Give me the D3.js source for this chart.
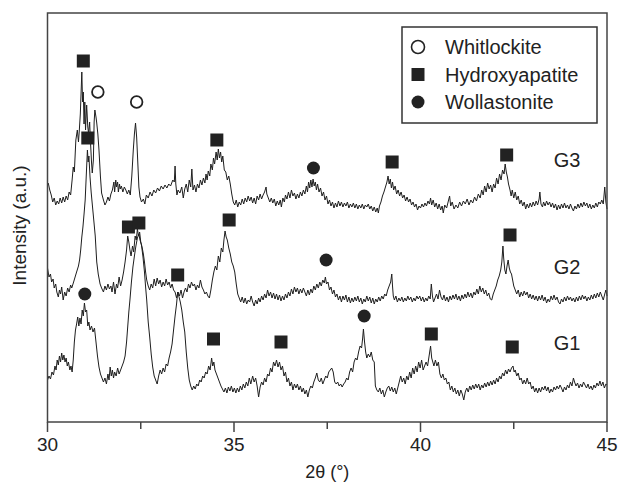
<!DOCTYPE html>
<html>
<head>
<meta charset="utf-8">
<script src="https://cdn.jsdelivr.net/npm/d3@7"></script>
<style>
  body { margin: 0; background: #fff; }
  svg { display: block; font-family: "Liberation Sans", Arial, sans-serif; }
</style>
</head>
<body>
<svg class="visual" width="618" height="488"></svg>
<script>
// Series names and vertical offsets used for stacking the patterns
const seriesNames = ["G1", "G2", "G3"];
const seriesOffsets = [0, 90, 180];
// Height (stacked a.u.) where each series label sits
const labelHeights = [79, 155, 262];

// [2theta, intensity (a.u.)]
const g1 = [[30.0,42],[30.04,46],[30.08,43],[30.12,50],[30.16,47],[30.2,56],[30.23,52],[30.26,62],[30.29,57],[30.32,66],[30.35,60],[30.38,69],[30.41,62],[30.44,67],[30.47,60],[30.5,64],[30.53,56],[30.56,60],[30.6,52],[30.63,56],[30.66,50],[30.69,62],[30.72,80],[30.75,92],[30.78,98],[30.81,105],[30.84,96],[30.87,104],[30.9,98],[30.93,112],[30.96,106],[30.99,119],[31.02,110],[31.05,112],[31.08,96],[31.11,100],[31.14,92],[31.18,96],[31.22,90],[31.26,94],[31.3,80],[31.34,66],[31.38,55],[31.42,48],[31.46,44],[31.5,40],[31.54,44],[31.58,38],[31.62,48],[31.65,42],[31.68,55],[31.71,46],[31.74,52],[31.77,44],[31.8,50],[31.84,46],[31.88,54],[31.92,48],[31.96,52],[32.0,56],[32.04,60],[32.08,66],[32.12,80],[32.15,95],[32.18,110],[32.21,122],[32.25,140],[32.29,155],[32.33,166],[32.37,176],[32.41,184],[32.45,188],[32.48,182],[32.52,177],[32.56,165],[32.6,150],[32.63,135],[32.66,122],[32.7,100],[32.74,85],[32.78,68],[32.82,55],[32.86,46],[32.9,42],[32.94,38],[32.98,46],[33.02,52],[33.06,48],[33.1,54],[33.14,50],[33.18,58],[33.22,56],[33.26,64],[33.3,70],[33.34,78],[33.38,92],[33.42,106],[33.46,118],[33.49,130],[33.52,126],[33.56,120],[33.6,112],[33.64,100],[33.68,90],[33.72,70],[33.76,54],[33.8,42],[33.84,36],[33.88,32],[33.92,36],[33.96,33],[34.0,38],[34.04,36],[34.08,42],[34.12,40],[34.16,46],[34.2,44],[34.24,50],[34.28,48],[34.32,56],[34.36,52],[34.4,64],[34.43,56],[34.46,60],[34.49,52],[34.53,48],[34.57,44],[34.61,40],[34.65,36],[34.69,33],[34.73,30],[34.77,34],[34.81,29],[34.85,35],[34.89,31],[34.93,36],[34.97,30],[35.01,34],[35.05,29],[35.09,34],[35.13,30],[35.17,36],[35.21,32],[35.25,38],[35.29,34],[35.33,40],[35.37,36],[35.41,44],[35.45,38],[35.5,46],[35.54,40],[35.58,44],[35.62,36],[35.66,25],[35.7,35],[35.74,40],[35.78,37],[35.82,44],[35.86,40],[35.9,48],[35.94,46],[35.98,54],[36.02,50],[36.06,60],[36.1,56],[36.14,62],[36.18,55],[36.22,60],[36.26,52],[36.3,56],[36.34,46],[36.38,50],[36.42,40],[36.46,44],[36.5,36],[36.54,40],[36.58,32],[36.62,38],[36.66,34],[36.7,38],[36.74,32],[36.78,36],[36.82,30],[36.86,34],[36.9,28],[36.94,32],[36.98,25],[37.02,32],[37.06,36],[37.1,34],[37.14,40],[37.18,44],[37.22,49],[37.26,42],[37.3,40],[37.34,44],[37.38,38],[37.42,42],[37.46,46],[37.5,44],[37.54,50],[37.58,52],[37.62,54],[37.66,50],[37.7,40],[37.74,38],[37.78,40],[37.82,36],[37.86,38],[37.9,35],[37.94,38],[37.98,40],[38.02,44],[38.06,42],[38.1,50],[38.14,54],[38.18,50],[38.22,60],[38.26,64],[38.3,62],[38.34,70],[38.38,76],[38.42,74],[38.45,84],[38.47,93],[38.5,80],[38.53,70],[38.56,64],[38.6,68],[38.64,65],[38.68,70],[38.72,62],[38.76,60],[38.79,36],[38.83,32],[38.87,30],[38.91,34],[38.95,28],[38.99,32],[39.03,25],[39.07,30],[39.11,34],[39.15,36],[39.19,31],[39.23,35],[39.27,30],[39.31,34],[39.35,28],[39.39,34],[39.43,40],[39.47,46],[39.51,40],[39.55,44],[39.59,38],[39.63,46],[39.67,42],[39.71,50],[39.75,44],[39.79,54],[39.83,48],[39.87,56],[39.91,50],[39.95,60],[39.99,54],[40.03,62],[40.07,52],[40.11,56],[40.15,60],[40.19,56],[40.23,66],[40.27,76],[40.3,64],[40.33,60],[40.36,56],[40.4,62],[40.44,56],[40.48,60],[40.52,48],[40.56,44],[40.6,48],[40.64,42],[40.68,44],[40.72,38],[40.76,40],[40.8,32],[40.84,36],[40.88,30],[40.92,34],[40.96,28],[41.0,32],[41.04,26],[41.08,32],[41.12,28],[41.16,22],[41.2,30],[41.24,34],[41.28,30],[41.32,36],[41.36,32],[41.4,37],[41.44,33],[41.48,38],[41.52,34],[41.56,38],[41.6,32],[41.64,37],[41.68,34],[41.72,39],[41.76,35],[41.8,40],[41.84,36],[41.88,41],[41.92,37],[41.96,42],[42.0,38],[42.04,44],[42.08,40],[42.12,46],[42.16,43],[42.2,49],[42.24,46],[42.28,52],[42.32,48],[42.36,53],[42.4,50],[42.44,54],[42.48,56],[42.51,50],[42.54,52],[42.58,46],[42.62,49],[42.66,42],[42.7,44],[42.74,38],[42.78,42],[42.82,38],[42.86,44],[42.9,38],[42.94,40],[42.98,33],[43.02,36],[43.06,30],[43.1,34],[43.14,29],[43.18,34],[43.22,30],[43.26,35],[43.3,32],[43.34,36],[43.38,31],[43.42,35],[43.46,29],[43.5,33],[43.54,30],[43.58,35],[43.62,32],[43.66,36],[43.7,33],[43.74,37],[43.78,34],[43.82,30],[43.86,35],[43.9,32],[43.94,37],[43.98,34],[44.02,40],[44.06,36],[44.1,44],[44.13,40],[44.17,36],[44.21,39],[44.25,34],[44.29,38],[44.33,35],[44.37,40],[44.41,37],[44.45,34],[44.49,38],[44.53,33],[44.57,36],[44.61,32],[44.65,37],[44.69,34],[44.73,39],[44.77,36],[44.81,41],[44.85,36],[44.89,40],[44.93,34],[44.97,38],[45.0,37]];

const g2 = [[30.0,64],[30.04,55],[30.08,58],[30.11,50],[30.15,53],[30.18,44],[30.22,48],[30.25,40],[30.29,35],[30.32,42],[30.35,38],[30.38,45],[30.42,32],[30.46,40],[30.5,36],[30.54,44],[30.58,40],[30.62,47],[30.65,44],[30.7,50],[30.74,55],[30.78,60],[30.83,66],[30.86,72],[30.89,82],[30.92,95],[30.95,105],[30.98,118],[31.01,132],[31.04,157],[31.07,182],[31.09,170],[31.11,176],[31.14,155],[31.17,140],[31.2,128],[31.24,112],[31.28,96],[31.32,70],[31.36,58],[31.41,48],[31.45,44],[31.5,40],[31.54,46],[31.58,42],[31.62,48],[31.66,43],[31.7,46],[31.73,40],[31.77,50],[31.81,38],[31.85,48],[31.88,44],[31.92,55],[31.96,46],[32.0,52],[32.04,60],[32.08,70],[32.12,82],[32.15,96],[32.18,90],[32.21,82],[32.24,76],[32.28,86],[32.31,80],[32.35,96],[32.38,92],[32.41,103],[32.44,96],[32.47,100],[32.5,90],[32.54,84],[32.57,78],[32.6,70],[32.63,60],[32.66,52],[32.7,46],[32.74,42],[32.78,48],[32.82,44],[32.86,53],[32.9,46],[32.94,54],[32.98,48],[33.02,52],[33.06,45],[33.1,50],[33.14,46],[33.18,53],[33.22,47],[33.26,50],[33.3,44],[33.34,48],[33.38,42],[33.42,40],[33.46,34],[33.5,40],[33.54,36],[33.58,42],[33.62,34],[33.66,40],[33.7,44],[33.74,40],[33.78,48],[33.82,44],[33.86,50],[33.9,46],[33.94,48],[33.98,42],[34.02,47],[34.06,44],[34.1,52],[34.14,45],[34.18,42],[34.22,38],[34.26,40],[34.3,36],[34.34,34],[34.38,42],[34.42,52],[34.46,60],[34.5,66],[34.54,62],[34.58,76],[34.62,70],[34.66,84],[34.7,80],[34.73,92],[34.76,101],[34.79,95],[34.82,92],[34.86,84],[34.9,78],[34.94,70],[34.98,66],[35.02,60],[35.06,48],[35.1,38],[35.14,34],[35.18,30],[35.22,35],[35.26,29],[35.3,34],[35.34,28],[35.38,32],[35.42,30],[35.46,36],[35.5,30],[35.54,26],[35.58,32],[35.62,28],[35.66,34],[35.7,30],[35.74,36],[35.78,32],[35.82,38],[35.86,34],[35.9,42],[35.94,36],[35.98,40],[36.02,34],[36.06,39],[36.1,33],[36.14,38],[36.18,32],[36.22,37],[36.26,31],[36.3,36],[36.34,32],[36.38,38],[36.42,34],[36.46,40],[36.5,36],[36.54,43],[36.58,38],[36.62,45],[36.66,40],[36.7,44],[36.74,38],[36.78,43],[36.82,39],[36.86,44],[36.9,40],[36.94,36],[36.98,42],[37.02,37],[37.06,43],[37.1,39],[37.14,46],[37.18,42],[37.22,48],[37.26,44],[37.3,50],[37.34,46],[37.38,52],[37.42,49],[37.45,55],[37.48,48],[37.52,50],[37.56,42],[37.6,45],[37.64,38],[37.68,42],[37.72,35],[37.76,38],[37.8,32],[37.84,36],[37.88,30],[37.92,36],[37.96,32],[38.0,37],[38.04,30],[38.08,35],[38.12,29],[38.16,34],[38.2,30],[38.24,35],[38.28,31],[38.32,36],[38.36,30],[38.4,34],[38.44,28],[38.48,33],[38.52,30],[38.56,36],[38.6,31],[38.64,35],[38.68,29],[38.72,34],[38.76,28],[38.8,33],[38.84,30],[38.88,35],[38.92,31],[38.96,36],[39.0,33],[39.04,38],[39.08,36],[39.12,42],[39.16,46],[39.2,50],[39.23,58],[39.25,46],[39.27,36],[39.3,32],[39.34,36],[39.38,30],[39.42,34],[39.46,31],[39.5,35],[39.54,30],[39.58,34],[39.62,31],[39.66,36],[39.7,32],[39.74,35],[39.78,30],[39.82,34],[39.86,31],[39.9,36],[39.94,33],[39.98,36],[40.02,31],[40.06,35],[40.1,30],[40.14,34],[40.18,31],[40.22,36],[40.26,33],[40.29,48],[40.32,36],[40.35,30],[40.39,34],[40.43,38],[40.47,33],[40.51,42],[40.55,35],[40.59,32],[40.63,37],[40.67,31],[40.71,35],[40.75,30],[40.79,36],[40.83,32],[40.87,37],[40.91,33],[40.95,38],[40.99,32],[41.03,36],[41.07,31],[41.11,37],[41.15,33],[41.19,38],[41.23,34],[41.27,40],[41.31,35],[41.35,39],[41.39,34],[41.43,40],[41.47,37],[41.51,43],[41.55,38],[41.59,46],[41.63,40],[41.67,44],[41.71,38],[41.75,42],[41.79,36],[41.83,39],[41.87,33],[41.91,32],[41.95,38],[41.99,42],[42.03,46],[42.07,52],[42.11,56],[42.15,62],[42.18,70],[42.21,86],[42.23,74],[42.26,62],[42.29,58],[42.32,66],[42.35,72],[42.38,64],[42.41,60],[42.44,58],[42.47,52],[42.5,46],[42.54,42],[42.58,38],[42.62,42],[42.66,35],[42.7,40],[42.74,36],[42.78,41],[42.82,37],[42.86,40],[42.9,34],[42.94,38],[42.98,33],[43.02,37],[43.06,32],[43.1,36],[43.14,31],[43.18,36],[43.22,32],[43.26,37],[43.3,31],[43.34,35],[43.38,29],[43.42,33],[43.46,30],[43.5,36],[43.54,32],[43.58,37],[43.62,32],[43.66,35],[43.7,30],[43.74,28],[43.78,33],[43.82,30],[43.86,35],[43.9,31],[43.94,36],[43.98,32],[44.02,35],[44.06,31],[44.1,34],[44.14,30],[44.18,35],[44.22,31],[44.26,36],[44.3,32],[44.34,37],[44.38,33],[44.42,36],[44.46,31],[44.5,35],[44.54,32],[44.58,37],[44.62,33],[44.66,38],[44.7,34],[44.74,39],[44.78,35],[44.82,40],[44.86,36],[44.9,32],[44.94,38],[44.97,42],[45.0,36]];

const g3 = [[30.02,59],[30.06,52],[30.1,47],[30.14,40],[30.18,44],[30.22,37],[30.26,41],[30.3,38],[30.34,44],[30.38,39],[30.42,45],[30.46,40],[30.5,46],[30.54,42],[30.58,50],[30.62,47],[30.66,62],[30.69,75],[30.72,70],[30.76,102],[30.8,112],[30.83,100],[30.85,110],[30.88,128],[30.92,170],[30.94,140],[30.96,150],[30.98,118],[31.0,140],[31.02,112],[31.05,137],[31.08,115],[31.1,109],[31.13,120],[31.15,102],[31.18,80],[31.2,69],[31.23,82],[31.25,120],[31.27,132],[31.3,125],[31.32,119],[31.35,108],[31.38,92],[31.42,65],[31.45,49],[31.5,42],[31.54,37],[31.58,40],[31.62,45],[31.66,41],[31.7,48],[31.74,52],[31.78,60],[31.8,50],[31.83,62],[31.85,55],[31.88,60],[31.9,50],[31.93,58],[31.95,53],[31.98,56],[32.02,50],[32.06,55],[32.1,52],[32.14,48],[32.18,52],[32.22,47],[32.26,66],[32.3,92],[32.33,108],[32.36,119],[32.39,105],[32.42,80],[32.45,55],[32.48,45],[32.52,40],[32.57,43],[32.61,38],[32.65,47],[32.7,44],[32.75,50],[32.8,46],[32.85,52],[32.9,49],[32.95,54],[33.0,51],[33.05,56],[33.1,53],[33.15,57],[33.2,54],[33.25,58],[33.3,56],[33.36,62],[33.4,60],[33.42,76],[33.44,58],[33.47,47],[33.5,52],[33.55,49],[33.6,55],[33.64,44],[33.68,53],[33.72,58],[33.76,50],[33.8,62],[33.84,55],[33.87,73],[33.9,52],[33.94,57],[33.98,50],[34.02,58],[34.06,54],[34.1,62],[34.14,57],[34.18,64],[34.22,59],[34.25,68],[34.28,62],[34.31,71],[34.35,66],[34.38,78],[34.42,72],[34.45,84],[34.48,78],[34.52,90],[34.55,82],[34.58,93],[34.61,84],[34.64,90],[34.67,80],[34.7,86],[34.74,72],[34.78,70],[34.82,62],[34.86,66],[34.9,58],[34.94,48],[34.98,40],[35.02,37],[35.06,42],[35.1,35],[35.14,40],[35.18,37],[35.22,43],[35.26,38],[35.3,44],[35.34,40],[35.38,46],[35.42,41],[35.46,45],[35.5,39],[35.54,44],[35.58,38],[35.62,46],[35.66,42],[35.7,48],[35.74,43],[35.78,47],[35.82,50],[35.86,55],[35.88,48],[35.92,44],[35.96,40],[36.0,44],[36.04,39],[36.08,43],[36.12,36],[36.16,41],[36.2,37],[36.24,42],[36.27,35],[36.31,44],[36.35,40],[36.38,47],[36.42,43],[36.46,50],[36.5,44],[36.54,52],[36.58,46],[36.62,49],[36.66,43],[36.7,48],[36.74,44],[36.78,50],[36.82,46],[36.86,52],[36.9,48],[36.94,56],[36.97,50],[37.0,60],[37.03,54],[37.06,62],[37.09,55],[37.12,63],[37.15,56],[37.18,60],[37.21,52],[37.24,58],[37.28,50],[37.32,54],[37.36,46],[37.4,50],[37.44,42],[37.48,46],[37.52,38],[37.56,42],[37.6,36],[37.64,40],[37.68,34],[37.72,39],[37.76,35],[37.8,41],[37.84,36],[37.88,40],[37.92,35],[37.96,39],[38.0,36],[38.04,40],[38.08,34],[38.12,38],[38.16,35],[38.2,39],[38.24,34],[38.28,38],[38.32,33],[38.36,37],[38.4,34],[38.44,38],[38.48,33],[38.52,37],[38.56,35],[38.6,38],[38.64,33],[38.68,36],[38.72,31],[38.76,35],[38.8,30],[38.84,34],[38.87,29],[38.9,36],[38.94,40],[38.98,46],[39.02,50],[39.06,55],[39.1,60],[39.13,66],[39.16,58],[39.19,63],[39.22,54],[39.25,60],[39.28,52],[39.32,56],[39.36,48],[39.4,52],[39.44,46],[39.48,50],[39.52,44],[39.56,47],[39.6,41],[39.64,45],[39.68,40],[39.72,43],[39.76,37],[39.8,40],[39.84,35],[39.88,38],[39.92,32],[39.96,36],[40.0,34],[40.04,38],[40.08,35],[40.12,39],[40.16,36],[40.2,41],[40.24,38],[40.27,44],[40.3,37],[40.34,42],[40.38,35],[40.42,39],[40.46,33],[40.5,38],[40.54,32],[40.58,36],[40.61,29],[40.65,37],[40.7,34],[40.74,40],[40.78,46],[40.81,36],[40.85,40],[40.9,33],[40.95,37],[41.0,34],[41.05,40],[41.1,36],[41.15,41],[41.2,38],[41.25,43],[41.3,37],[41.35,42],[41.4,39],[41.45,45],[41.5,41],[41.55,48],[41.6,44],[41.64,52],[41.68,47],[41.72,56],[41.76,50],[41.8,59],[41.84,53],[41.88,57],[41.92,50],[41.96,58],[42.0,54],[42.04,64],[42.08,58],[42.12,68],[42.16,62],[42.2,72],[42.24,68],[42.27,78],[42.3,70],[42.33,65],[42.36,58],[42.4,52],[42.43,46],[42.46,52],[42.5,44],[42.54,50],[42.58,42],[42.62,46],[42.66,38],[42.7,42],[42.74,36],[42.78,40],[42.82,33],[42.86,38],[42.9,34],[42.94,39],[42.98,35],[43.02,40],[43.06,36],[43.1,41],[43.14,37],[43.18,43],[43.2,50],[43.23,38],[43.27,35],[43.3,40],[43.34,36],[43.38,41],[43.42,37],[43.46,40],[43.5,35],[43.54,39],[43.58,34],[43.62,38],[43.66,32],[43.7,37],[43.74,33],[43.78,38],[43.82,34],[43.86,39],[43.9,34],[43.94,37],[43.98,33],[44.02,38],[44.06,34],[44.1,31],[44.14,36],[44.18,33],[44.22,38],[44.26,34],[44.3,39],[44.34,35],[44.38,40],[44.42,36],[44.46,39],[44.5,34],[44.54,38],[44.58,33],[44.62,37],[44.66,34],[44.7,39],[44.74,35],[44.78,40],[44.82,38],[44.86,42],[44.9,38],[44.94,55],[44.97,40],[45.0,33]];

// Phase markers: series index, 2theta and height (a.u.) above that pattern
const whitlockite = [[2, 31.35, 150], [2, 32.39, 140]];
const hydroxyapatite = [[2, 30.96, 181], [2, 34.54, 102], [2, 39.24, 80], [2, 42.31, 87],
                        [1, 31.08, 194], [1, 32.17, 105], [1, 32.45, 109], [1, 34.87, 112], [1, 42.4, 97],
                        [0, 33.49, 147], [0, 34.45, 83], [0, 36.26, 80], [0, 40.29, 88], [0, 42.46, 75]];
const wollastonite = [[2, 37.13, 74], [1, 37.47, 72], [0, 31.0, 128], [0, 38.49, 106]];

// Axis tick values
const majorTicks = [30, 35, 40, 45];
const minorTicks = [32.5, 37.5, 42.5];

const svg = d3.select(".visual");
const margin = {top: 13, right: 11, bottom: 66, left: 47.5};
const width = 618 - margin.left - margin.right;
const height = 488 - margin.top - margin.bottom;

const x = d3.scaleLinear().domain([30, 45]).range([margin.left, margin.left + width]);
const y = d3.scaleLinear().domain([0, height]).range([margin.top + height, margin.top]);

// Patterns, each lifted by its offset
const line = d3.line().x(d => x(d[0])).y(d => y(d[1]));
[g1, g2, g3].forEach((pattern, i) => {
  svg.append("path")
    .attr("d", line(pattern.map(d => [d[0], d[1] + seriesOffsets[i]])))
    .attr("fill", "none")
    .attr("stroke", "#1e1e1e")
    .attr("stroke-width", 1)
    .attr("stroke-linejoin", "round");
});

// Series labels
seriesNames.forEach((name, i) => {
  svg.append("text")
    .attr("x", x(43.93))
    .attr("y", y(labelHeights[i]))
    .attr("text-anchor", "middle")
    .attr("dominant-baseline", "central")
    .attr("font-size", 20)
    .attr("fill", "#222")
    .text(name);
});

// Phase markers
const square = d3.symbol().type(d3.symbolSquare).size(169);
const dot = d3.symbol().type(d3.symbolCircle).size(133);

function markerPos(m) {
  return `translate(${x(m[1])},${y(m[2] + seriesOffsets[m[0]])})`;
}

svg.selectAll(".hap").data(hydroxyapatite).join("path")
  .attr("d", square).attr("transform", markerPos).attr("fill", "#222");
svg.selectAll(".wol").data(wollastonite).join("path")
  .attr("d", dot).attr("transform", markerPos).attr("fill", "#222");
svg.selectAll(".whit").data(whitlockite).join("circle")
  .attr("cx", d => x(d[1])).attr("cy", d => y(d[2] + seriesOffsets[d[0]]))
  .attr("r", 5.8).attr("fill", "#fff").attr("stroke", "#222").attr("stroke-width", 1.8);

// Frame and x axis
svg.append("rect")
  .attr("x", margin.left).attr("y", margin.top)
  .attr("width", width).attr("height", height)
  .attr("fill", "none").attr("stroke", "#444").attr("stroke-width", 1.5);

const axisY = margin.top + height;
svg.selectAll(".major").data(majorTicks).join("line")
  .attr("x1", d => x(d)).attr("x2", d => x(d))
  .attr("y1", axisY).attr("y2", axisY + 10)
  .attr("stroke", "#444").attr("stroke-width", 1.5);
svg.selectAll(".minor").data(minorTicks).join("line")
  .attr("x1", d => x(d)).attr("x2", d => x(d))
  .attr("y1", axisY).attr("y2", axisY + 7)
  .attr("stroke", "#444").attr("stroke-width", 1.5);
svg.selectAll(".tickLabel").data(majorTicks).join("text")
  .attr("x", d => x(d)).attr("y", axisY + 22)
  .attr("text-anchor", "middle").attr("dominant-baseline", "central")
  .attr("font-size", 19).attr("fill", "#222")
  .text(d => d);

// Axis titles
svg.append("text")
  .attr("x", x(37.5)).attr("y", axisY + 50)
  .attr("text-anchor", "middle").attr("dominant-baseline", "central")
  .attr("font-size", 18).attr("fill", "#222")
  .text("2θ (°)");
svg.append("text")
  .attr("transform", `translate(19,${margin.top + height / 2 + 8}) rotate(-90)`)
  .attr("text-anchor", "middle").attr("dominant-baseline", "central")
  .attr("font-size", 19).attr("fill", "#222")
  .text("Intensity (a.u.)");

// Legend
const legend = svg.append("g").attr("transform", "translate(402,27)");
legend.append("rect")
  .attr("width", 195).attr("height", 96)
  .attr("fill", "#fff").attr("stroke", "#333").attr("stroke-width", 1.5);
const legendNames = ["Whitlockite", "Hydroxyapatite", "Wollastonite"];
legendNames.forEach((name, i) => {
  const cy = 20 + i * 27.5;
  if (i === 0) {
    legend.append("circle").attr("cx", 16).attr("cy", cy).attr("r", 6.5)
      .attr("fill", "#fff").attr("stroke", "#222").attr("stroke-width", 1.6);
  } else {
    legend.append("path").attr("d", i === 1 ? square() : dot())
      .attr("transform", `translate(16,${cy})`).attr("fill", "#222");
  }
  legend.append("text")
    .attr("x", 43).attr("y", cy)
    .attr("dominant-baseline", "central")
    .attr("font-size", 20).attr("fill", "#222")
    .text(name);
});
</script>
</body>
</html>
